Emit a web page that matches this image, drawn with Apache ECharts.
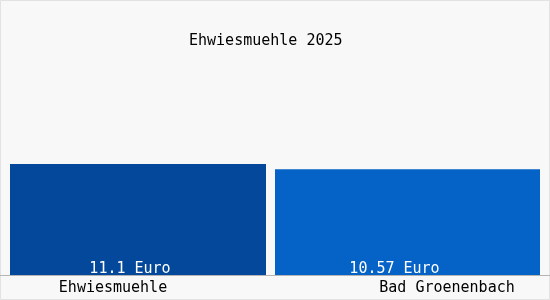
<!DOCTYPE html>
<html>
<head>
<meta charset="utf-8">
<script src="https://cdn.jsdelivr.net/npm/echarts@6/dist/echarts.min.js"></script>
<style>
html,body{margin:0;padding:0;background:#f8f8f8;}
#chart{width:550px;height:300px;}
</style>
</head>
<body>
<div id="chart"></div>
<script>
const titleText = 'Ehwiesmuehle 2025';
const categories = ['Ehwiesmuehle', 'Bad Groenenbach'];
const values = [11.1, 10.57];
const valueLabels = ['11.1 Euro', '10.57 Euro'];
const barColors = ['#03489a', '#0562c6'];

const FONT = '"DejaVu Sans Mono", "Liberation Mono", monospace';
const barWidths = [256, 265];
const labelPads = [[0, 59, 0, 0], [0, 0, 0, 79]];
const labelOffsets = [[-8, 2], [-13, 2]];

const chart = echarts.init(document.getElementById('chart'), null, {renderer: 'canvas'});

const barSeries = values.map((v, i) => ({
  type: 'bar',
  xAxisIndex: 0,
  yAxisIndex: 0,
  barWidth: barWidths[i],
  barGap: '-100%',
  itemStyle: {color: barColors[i]},
  data: categories.map((c, j) => (j === i ? v : '-')),
  label: {
    show: true,
    position: 'insideBottom',
    distance: 0,
    offset: labelOffsets[i],
    formatter: () => valueLabels[i],
    fontFamily: FONT,
    fontSize: 15,
    color: '#fff'
  }
}));

chart.setOption({
  backgroundColor: '#f8f8f8',
  animation: false,
  title: {
    text: titleText,
    left: 184,
    top: 29,
    textStyle: {fontFamily: FONT, fontSize: 15, fontWeight: 'normal', color: '#000'}
  },
  grid: [
    {left: 10, right: 10, top: 75, bottom: 25},
    {left: 0, right: 0, top: 75, bottom: 25}
  ],
  xAxis: [
    {
      type: 'category',
      gridIndex: 0,
      data: categories.map((c, i) => ({value: c, textStyle: {padding: labelPads[i]}})),
      axisLine: {show: false},
      axisTick: {show: false},
      axisLabel: {margin: 6, fontFamily: FONT, fontSize: 15, color: '#000'}
    },
    {
      type: 'category',
      gridIndex: 1,
      data: categories,
      axisLine: {show: true, lineStyle: {color: '#b4b4b4', width: 1}},
      axisTick: {show: false},
      axisLabel: {show: false}
    }
  ],
  yAxis: [
    {type: 'value', gridIndex: 0, min: 0, max: 20, show: false},
    {type: 'value', gridIndex: 1, min: 0, max: 20, show: false}
  ],
  series: barSeries,
  graphic: [{
    type: 'rect',
    shape: {x: 0.5, y: 0.5, width: 549, height: 299},
    style: {fill: 'none', stroke: '#e2e2e2', lineWidth: 1},
    silent: true
  }]
});
</script>
</body>
</html>
